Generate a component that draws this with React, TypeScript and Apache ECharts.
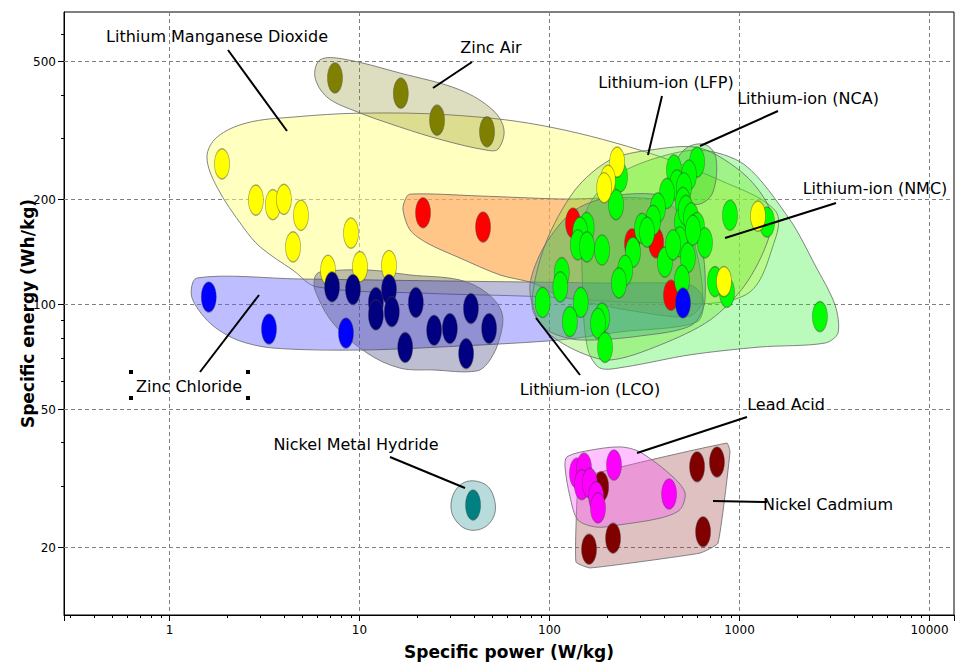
import React, { useEffect, useRef } from "react";
import * as echarts from "echarts";

// ---------- axes ----------
const X_MIN = 0.2785;
const X_MAX = 13455;
const Y_MIN = 12.74;
const Y_MAX = 692;
const Y_LABEL_TICKS = [20, 50, 100, 200, 500];
const Y_MINOR_TICKS = [30, 40, 60, 70, 80, 90, 300, 400, 600];
const X_MINOR_TICKS = [
  0.3, 0.4, 0.5, 0.6, 0.7, 0.8, 0.9,
  2, 3, 4, 5, 6, 7, 8, 9,
  20, 30, 40, 50, 60, 70, 80, 90,
  200, 300, 400, 500, 600, 700, 800, 900,
  2000, 3000, 4000, 5000, 6000, 7000, 8000, 9000,
];

// ---------- points: [specific power W/kg, specific energy Wh/kg] ----------
const lithiumManganeseDioxide = [
  [1.89, 253], [2.85, 199], [3.5, 193], [4.0, 200], [4.92, 180], [4.47, 146],
  [9.02, 160], [6.83, 125], [10.06, 128], [14.3, 129], [227, 256], [203, 227],
  [194, 216], [1251, 179], [828, 116],
];
const zincAir = [[7.43, 447], [16.5, 404], [25.6, 338], [46.9, 313]];
const lithiumPrimary = [[21.6, 183], [44.7, 166.5], [133, 171], [272, 149], [364, 150], [436, 106]];
const zincChloride = [[1.61, 104.7], [3.34, 84.7], [8.49, 82.5], [504, 100.7]];
const lithiumPrimaryNavy = [
  [7.17, 112], [9.24, 110], [12.2, 101], [14.3, 110], [12.2, 93], [14.8, 95], [19.8, 101],
  [17.4, 75], [24.7, 84], [29.9, 85], [38.6, 97], [48.1, 85], [36.4, 72],
];
const lithiumIon = [
  [235, 232], [224, 193], [598, 256], [542, 235], [452, 243], [469, 220], [415, 208],
  [510, 216], [504, 196], [372, 189], [351, 174], [307, 165], [498, 172], [522, 186],
  [556, 177], [598, 166], [658, 150], [486, 151], [157, 166], [145, 161], [141, 148],
  [189, 143], [275, 141], [405, 132], [250, 125], [232, 115], [535, 136], [498, 117],
  [743, 116], [859, 108], [891, 180], [1396, 172], [116, 123], [114, 112], [92, 101],
  [146, 101], [128, 89], [189, 91], [180, 88], [196, 75], [2650, 92], [569, 163],
  [447, 148], [326, 161], [157.5, 146],
];
const leadAcid = [[139.5, 32.6], [152, 33.7], [148, 30.2], [163, 30.5], [176, 27.9], [180, 25.9], [218.5, 34.4], [426, 28.4]];
const nickelCadmium = [[598, 34.0], [761, 35.1], [643, 22.1], [216, 21.2], [161.5, 19.7], [187, 29.8]];
const nickelMetalHydride = [[39.6, 26.4]];

// ---------- region outlines (data coordinates) ----------
const lmoHull = [
  [1.575, 265], [1.778, 302], [2.56, 332], [4.47, 345], [10.06, 354], [29.9, 350], [89.1, 327],
  [300, 277], [789, 227], [1538, 186], [1538, 153], [1069, 106], [338, 101], [89.1, 105],
  [20.8, 107.5], [5.98, 112], [4.47, 125], [3.0, 146], [2.44, 166.5], [1.778, 217],
];
const zincAirHull = [
  [6.2, 504], [8.19, 507], [16.3, 462], [33.8, 413], [50.4, 361], [57.6, 317], [53.6, 279],
  [46.9, 277], [27.5, 296], [16.3, 323], [9.24, 361], [6.74, 394], [5.83, 450],
];
const orangeHull = [
  [18.4, 207], [43.1, 204.5], [113.6, 200.5], [381.6, 199], [536, 169], [642, 104], [549, 92.4],
  [300, 94.8], [113.6, 105.4], [81.9, 114.9], [54.9, 121.2], [33.8, 135.6], [22.65, 149.8],
  [18.44, 163.3], [16.94, 186.4], [17.36, 199],
];
const zincChlorideHull = [
  [1.395, 118.8], [4.86, 118], [29.9, 116.4], [184.5, 114.9], [549, 113.4], [642, 104],
  [598, 88.8], [235, 83.1], [113.6, 78.8], [33.8, 75.7], [10.06, 73.7], [3.5, 74.7],
  [2.27, 78.8], [1.63, 88.2], [1.31, 104.7],
];
const navyHull = [
  [6.2, 123.6], [10.95, 125.3], [18.44, 121.2], [33.8, 117.2], [46.9, 107.5], [56.2, 94.2],
  [54.9, 80.4], [48.6, 69], [41.5, 64.2], [24.4, 64.6], [16.34, 65.4], [10.95, 72.3],
  [7.25, 88.2], [5.83, 109.7], [5.83, 119.6],
];
const nmcHull = [
  [153.8, 180.3], [208, 227.5], [338, 259.6], [619.5, 277.3], [1069, 251], [1845, 174.5],
  [2496, 129.5], [3183, 99.3], [3299, 82.5], [2818, 77.2], [1282, 75.2], [549, 71.4],
  [249.6, 65.9], [184.5, 65.4], [159.5, 73.7], [150, 102.7],
];
const lfpHull = [
  [80.9, 99.3], [94.7, 147.9], [136.2, 212.8], [208, 259.6], [338, 277.3], [619.5, 281],
  [1069, 235], [1448, 186.4], [1413, 152.8], [1069, 113.4], [699.6, 89.9], [381.6, 76.2],
  [208, 69], [136.2, 73.7], [94.7, 84.2],
];
const lcoHull = [
  [86, 91.1], [78.9, 113.4], [94.7, 147.9], [136.2, 186.4], [235, 205.9], [430.7, 201.8],
  [605, 163.3], [658, 102.7], [562, 87], [299.5, 80.9], [144.8, 78.8], [100.6, 83.1],
];
const ncaHull = [[463, 256], [536, 283], [666, 287], [752, 263], [725, 210], [619.5, 194], [510, 199], [457.5, 220]];
const nickelCadmiumHull = [[144.8, 31.6], [859, 39.8], [891, 37.5], [770, 20.5], [619.5, 19.2], [163.4, 17.4], [137.8, 18.1], [139.5, 27.3]];
const leadAcidHull = [
  [123.6, 36.3], [157.5, 37.8], [235, 38.8], [299.5, 37.5], [446.7, 31.8], [516.7, 28.6],
  [486, 25.6], [381.6, 24.2], [226.6, 23.1], [177.8, 22.8], [141.3, 23.9], [128.2, 27.9], [120.7, 34],
];
const nickelMetalHydrideHull = [[34.6, 30.4], [44.7, 30.5], [51, 27.7], [50.4, 24.2], [42, 22.4], [33.8, 23.1], [30.3, 26.4]];

const HULLS = [
  { pts: lmoHull, fill: "rgba(255,255,128,0.5)", smooth: 0.35 },
  { pts: zincAirHull, fill: "rgba(128,128,20,0.27)", smooth: 0.35 },
  { pts: orangeHull, fill: "rgba(255,120,60,0.42)", smooth: 0.3 },
  { pts: zincChlorideHull, fill: "rgba(90,90,255,0.4)", smooth: 0.3 },
  { pts: navyHull, fill: "rgba(40,40,110,0.3)", smooth: 0.35 },
  { pts: nmcHull, fill: "rgba(0,235,0,0.27)", smooth: 0.3 },
  { pts: lfpHull, fill: "rgba(110,230,40,0.33)", smooth: 0.3 },
  { pts: lcoHull, fill: "rgba(40,150,120,0.3)", smooth: 0.3 },
  { pts: ncaHull, fill: "rgba(0,200,0,0.28)", smooth: 0.35 },
  { pts: nickelCadmiumHull, fill: "rgba(150,50,50,0.3)", smooth: 0.12 },
  { pts: leadAcidHull, fill: "rgba(255,80,255,0.35)", smooth: 0.3 },
  { pts: nickelMetalHydrideHull, fill: "rgba(0,128,128,0.28)", smooth: 0.4 },
];

const POINT_SERIES = [
  { name: "Lithium primary (red)", data: lithiumPrimary, color: "#ff0000" },
  { name: "Lithium-ion", data: lithiumIon, color: "#00ff00" },
  { name: "Lithium Manganese Dioxide", data: lithiumManganeseDioxide, color: "#ffff00" },
  { name: "Zinc Chloride", data: zincChloride, color: "#0000ff" },
  { name: "Zinc Air", data: zincAir, color: "#808000" },
  { name: "Lithium primary (navy)", data: lithiumPrimaryNavy, color: "#000080" },
  { name: "Nickel Cadmium", data: nickelCadmium, color: "#800000" },
  { name: "Lead Acid", data: leadAcid, color: "#ff00ff" },
  { name: "Nickel Metal Hydride", data: nickelMetalHydride, color: "#008080" },
];

// ---------- annotations (text centre, leader line in px) ----------
const ANNOTATIONS = [
  { text: "Lithium Manganese Dioxide", tx: 217, ty: 36, line: [228, 50, 287, 131] },
  { text: "Zinc Air", tx: 491, ty: 47, line: [472, 62, 433, 88] },
  { text: "Lithium-ion (NCA)", tx: 808, ty: 98, line: [778, 111, 700, 146] },
  { text: "Lithium-ion (LFP)", tx: 666, ty: 82, line: [662, 96, 648, 155], bg: true },
  { text: "Lithium-ion (NMC)", tx: 875, ty: 188, line: [836, 203, 725, 238] },
  { text: "Zinc Chloride", tx: 189, ty: 386, line: [200, 372, 259, 295] },
  { text: "Lithium-ion (LCO)", tx: 590, ty: 389, line: [580, 375, 536, 318] },
  { text: "Lead Acid", tx: 786, ty: 404, line: [747, 417, 637, 453] },
  { text: "Nickel Cadmium", tx: 828, ty: 504, line: [767, 502, 713, 501] },
  { text: "Nickel Metal Hydride", tx: 356, ty: 444, line: [390, 457, 465, 488] },
];
const HANDLES = [[131, 372], [248, 372], [131, 398], [248, 398]];

const FONT = '"DejaVu Sans", Verdana, sans-serif';

function isDecade(v: number) {
  const l = Math.log10(v);
  return Math.abs(l - Math.round(l)) < 1e-6;
}

export default function App() {
  const ref = useRef<HTMLDivElement>(null);
  useEffect(() => {
    if (!ref.current) return;
    const chart = echarts.init(ref.current, null, { renderer: "svg" });

    const graphic: any[] = [];
    ANNOTATIONS.forEach((a) => {
      graphic.push({
        type: "line",
        z: 100,
        shape: { x1: a.line[0], y1: a.line[1], x2: a.line[2], y2: a.line[3] },
        style: { stroke: "#000", lineWidth: 2 },
      });
      graphic.push({
        type: "text",
        z: 101,
        x: a.tx,
        y: a.ty,
        style: {
          text: a.text,
          font: `16px ${FONT}`,
          fill: "#000",
          align: "center",
          verticalAlign: "middle",
          backgroundColor: a.bg ? "#ffffff" : undefined,
          padding: a.bg ? [3, 2, 3, 2] : undefined,
        },
      });
    });
    HANDLES.forEach((h) => {
      graphic.push({
        type: "rect",
        z: 102,
        shape: { x: h[0] - 2, y: h[1] - 2, width: 4, height: 4 },
        style: { fill: "#000" },
      });
    });

    const series: any[] = [
      {
        type: "custom",
        name: "yGrid",
        z: 1,
        silent: true,
        clip: false,
        data: Y_LABEL_TICKS.map((v) => [1, v]),
        renderItem: (params: any, api: any) => {
          const v = api.value(1);
          const p = api.coord([1, v]);
          const cs = params.coordSys;
          const y = Math.round(p[1]) + 0.5;
          return {
            type: "group",
            children: [
              { type: "line", shape: { x1: cs.x, y1: y, x2: cs.x + cs.width, y2: y }, style: { stroke: "#808080", lineWidth: 1, lineDash: [4, 3] } },
              { type: "line", shape: { x1: cs.x - 6, y1: y, x2: cs.x, y2: y }, style: { stroke: "#000", lineWidth: 1 } },
              { type: "text", x: cs.x - 8, y: y, style: { text: String(v), align: "right", verticalAlign: "middle", font: `12px ${FONT}`, fill: "#000" } },
            ],
          };
        },
      },
      {
        type: "custom",
        name: "yMinor",
        z: 1,
        silent: true,
        clip: false,
        data: Y_MINOR_TICKS.map((v) => [1, v]),
        renderItem: (params: any, api: any) => {
          const p = api.coord([1, api.value(1)]);
          const cs = params.coordSys;
          const y = Math.round(p[1]) + 0.5;
          return { type: "line", shape: { x1: cs.x - 3, y1: y, x2: cs.x, y2: y }, style: { stroke: "#000", lineWidth: 1 } };
        },
      },
      {
        type: "custom",
        name: "xMinor",
        z: 1,
        silent: true,
        clip: false,
        data: X_MINOR_TICKS.map((v) => [v, 100]),
        renderItem: (params: any, api: any) => {
          const p = api.coord([api.value(0), 100]);
          const cs = params.coordSys;
          const x = Math.round(p[0]) + 0.5;
          const yb = cs.y + cs.height;
          return { type: "line", shape: { x1: x, y1: yb, x2: x, y2: yb + 3 }, style: { stroke: "#000", lineWidth: 1 } };
        },
      },
      {
        type: "custom",
        name: "regions",
        z: 2,
        silent: true,
        data: HULLS.map((h, i) => [h.pts[0][0], h.pts[0][1], i]),
        encode: { x: 0, y: 1 },
        renderItem: (params: any, api: any) => {
          const h = HULLS[api.value(2)];
          const points = h.pts.map((p) => api.coord(p));
          return {
            type: "polygon",
            shape: { points, smooth: h.smooth },
            style: { fill: h.fill, stroke: "rgba(110,110,110,0.85)", lineWidth: 1 },
          };
        },
      },
    ];

    POINT_SERIES.forEach((s) => {
      series.push({
        type: "scatter",
        name: s.name,
        z: 3,
        symbol: "circle",
        symbolSize: [15, 30],
        data: s.data,
        itemStyle: { color: s.color, borderColor: "rgba(60,60,60,0.45)", borderWidth: 1, opacity: 1 },
      });
    });

    chart.setOption({
      animation: false,
      backgroundColor: "#ffffff",
      grid: { left: 64, right: 8, top: 12, bottom: 53, show: true, borderColor: "#000", borderWidth: 1 },
      xAxis: {
        type: "log",
        logBase: 10,
        min: X_MIN,
        max: X_MAX,
        name: "Specific power (W/kg)",
        nameLocation: "middle",
        nameGap: 28,
        nameTextStyle: { fontFamily: FONT, fontWeight: "bold", fontSize: 17, color: "#000" },
        axisLine: { show: true, lineStyle: { color: "#000", width: 1 } },
        axisTick: { show: true, length: 6, lineStyle: { color: "#000" } },
        axisLabel: {
          margin: 9,
          fontFamily: FONT,
          fontSize: 12,
          color: "#000",
          formatter: (v: number) => (isDecade(v) ? String(Math.round(v)) : ""),
        },
        splitLine: { show: true, lineStyle: { color: "#808080", type: [4, 3], width: 1 } },
      },
      yAxis: {
        type: "log",
        logBase: 10,
        min: Y_MIN,
        max: Y_MAX,
        name: "Specific energy (Wh/kg)",
        nameLocation: "middle",
        nameGap: 28,
        nameRotate: 90,
        nameTextStyle: { fontFamily: FONT, fontWeight: "bold", fontSize: 17, color: "#000" },
        axisLine: { show: true, lineStyle: { color: "#000", width: 1 } },
        axisTick: { show: false },
        axisLabel: { show: false },
        splitLine: { show: false },
      },
      graphic,
      series,
    });

    return () => chart.dispose();
  }, []);

  return (
    <div
      ref={ref}
      style={{ position: "fixed", left: 0, top: 0, width: 962, height: 668, background: "#fff" }}
    />
  );
}
